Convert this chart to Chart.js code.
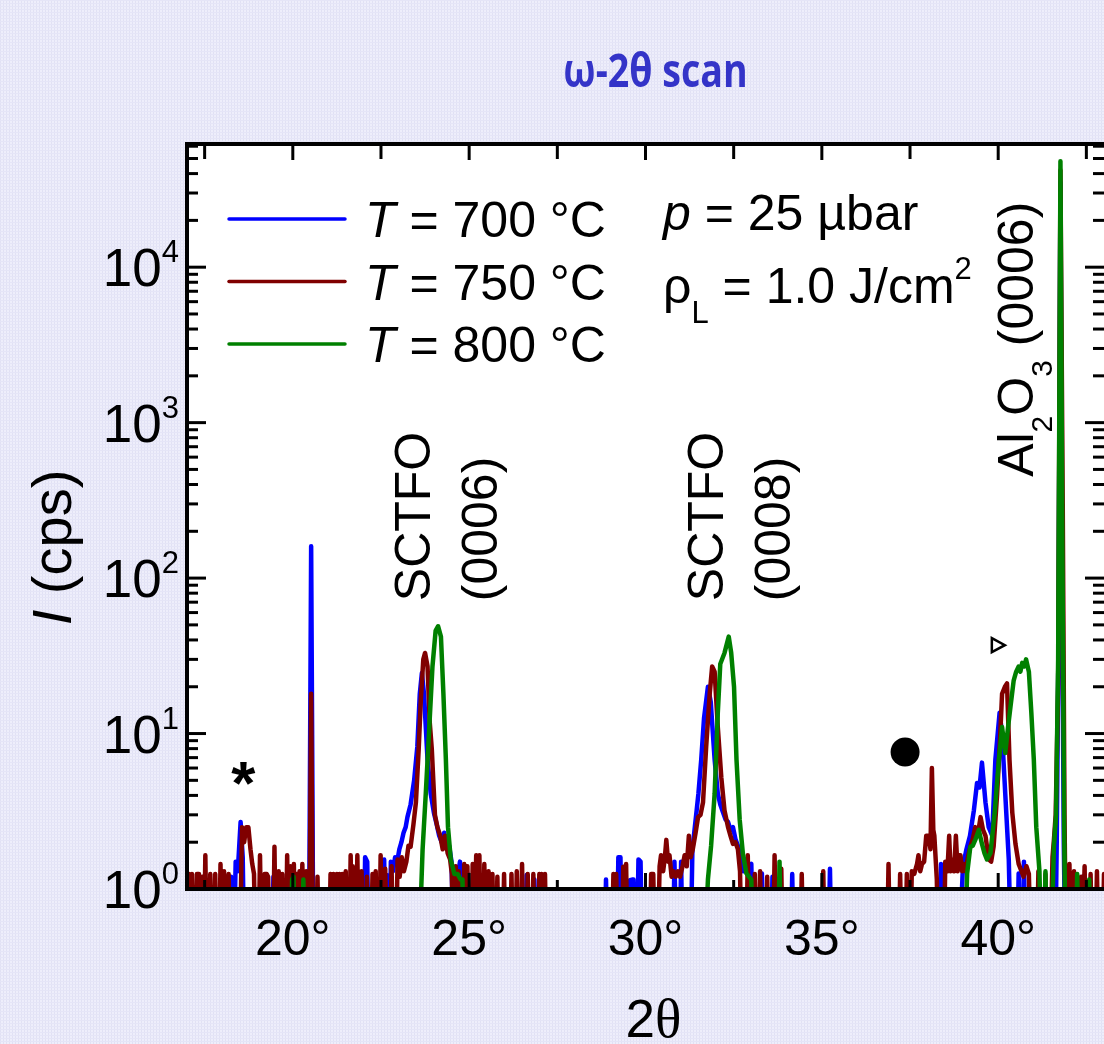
<!DOCTYPE html>
<html>
<head>
<meta charset="utf-8">
<title>ω-2θ scan</title>
<script src="https://cdn.jsdelivr.net/npm/chart.js@4/dist/chart.umd.min.js"></script>
<style>
  html, body { margin: 0; padding: 0; background: #ebebf9; }
  canvas { display: block; }
</style>
</head>
<body>
<canvas id="xrd" width="1104" height="1044"></canvas>
<script>
// ---------------- data: ω-2θ scans, intensity in counts per second ----------------
const scanTemps  = [700, 750, 800];                 // growth temperature, °C
const scanColors = ['#0000ff', '#800000', '#008000'];

// [2θ (deg), I (cps)] ; 0 cps = no counts (sits on the bottom of the log axis)
const scan700 = [
  [17.00,0],[17.36,0],[17.40,1.15],[17.44,0],
  [18.06,0],[18.10,1.15],[18.14,0],[18.21,0],[18.25,1.2],[18.29,0],
  [18.33,0],[18.38,1.5],[18.44,1.3],[18.52,2.7],[18.58,1.6],[18.62,0],
  [19.41,0],[19.45,1.2],[19.49,0],[19.51,0],[19.55,1.2],[19.59,0],
  [20.31,0],[20.35,1.2],[20.39,0],
  [20.46,0],[20.52,160],[20.58,0],
  [21.86,0],[21.90,1.2],[21.94,0],
  [22.01,0],[22.05,1.6],[22.11,1.5],[22.15,0],
  [22.55,0],[22.59,1.55],[22.63,0],[22.66,1.23],[22.70,0],
  [22.74,0],[22.78,1.5],[22.84,1.3],[22.90,1.6],[22.96,1.5],[23.02,1.8],[23.08,2.0],[23.14,2.3],
  [23.20,2.5],[23.25,2.9],[23.34,3.5],[23.44,5.0],[23.53,8.2],[23.60,18],[23.66,24.5],[23.72,18],
  [23.82,6.8],[23.91,4.1],[24.00,3.1],[24.08,2.6],[24.15,2.2],[24.22,2.0],[24.29,2.3],[24.36,1.9],
  [24.43,1.9],[24.50,1.5],[24.56,0],
  [24.58,0],[24.62,1.39],[24.70,1.3],[24.74,1.5],[24.78,0],
  [24.92,0],[24.96,1.25],[25.00,0],
  [26.59,0],[26.63,1.23],[26.67,0],
  [26.81,0],[26.85,1.15],[26.89,0],
  [28.84,0],[28.88,1.15],[28.92,0],
  [29.19,0],[29.23,1.6],[29.29,1.6],[29.33,0],
  [29.52,0],[29.56,1.14],[29.62,1.15],[29.66,1.15],[29.70,0],
  [29.76,0],[29.80,1.55],[29.86,1.5],[29.90,0],
  [30.78,0],[30.82,1.5],[30.88,0],
  [30.97,0],[31.01,1.5],[31.05,0],
  [31.28,0],[31.33,1.8],[31.39,2.4],[31.45,3.2],[31.50,4.1],[31.58,6.8],[31.66,12.6],[31.77,20],
  [31.85,16],[31.96,6.8],[32.05,4.1],[32.12,3.5],[32.20,3.1],[32.27,2.8],[32.34,2.7],[32.41,2.4],
  [32.48,2.5],[32.55,2.1],[32.62,1.9],[32.70,1.6],[32.78,1.3],[32.85,1.55],[32.92,1.3],[33.00,1.45],[33.05,0],
  [33.26,0],[33.30,1.26],[33.34,0],
  [33.56,0],[33.60,1.2],[33.64,0],
  [34.12,0],[34.16,1.25],[34.20,0],
  [35.19,0],[35.23,1.35],[35.27,0],
  [38.34,0],[38.38,1.45],[38.44,1.3],[38.48,0],
  [38.90,0],[39.00,1.4],[39.10,1.8],[39.20,2.2],[39.26,2.7],[39.31,3.2],[39.40,4.8],[39.47,4.5],
  [39.54,6.5],[39.64,3.6],[39.73,2.5],[39.83,2.2],[39.92,6.8],[40.04,13.6],[40.11,10],[40.20,4.1],
  [40.30,1.55],[40.36,0],
  [40.54,0],[40.58,1.26],[40.62,0],
  [40.69,0],[40.73,1.5],[40.77,0],
  [41.62,0],[41.66,2],[41.71,40],[41.765,35000],[41.81,100],[41.86,2],[41.90,0],
  [42.36,0],[42.40,1.2],[42.44,0],
  [43.00,0]
];

const scan750 = [
  [17.00,0],[17.02,0],[17.06,1.25],[17.10,0],[17.14,1.25],[17.18,0],
  [17.24,0],[17.28,1.25],[17.34,1.25],[17.38,0],[17.44,1.2],[17.48,0],
  [17.52,1.65],[17.56,0],
  [17.62,0],[17.66,1.25],[17.70,0],
  [17.76,0],[17.80,1.25],[17.84,0],
  [17.91,0],[17.95,1.45],[17.99,0],[18.05,1.3],[18.09,0],
  [18.14,0],[18.18,1.25],[18.22,0],
  [18.50,0],[18.56,2.5],[18.62,2.0],[18.68,2.5],[18.74,2.5],[18.80,1.8],[18.85,1.45],[18.90,1.25],[18.94,0],
  [19.03,0],[19.07,1.65],[19.11,0],
  [19.16,0],[19.20,1.25],[19.26,1.25],[19.30,1.2],[19.34,0],
  [19.44,0],[19.48,1.87],[19.52,0],
  [19.56,0],[19.60,1.3],[19.64,0],[19.70,1.25],[19.74,0],
  [19.80,0],[19.84,1.65],[19.88,0],[19.93,1.4],[19.97,0],
  [19.99,0],[20.03,1.45],[20.07,0],[20.10,1.25],[20.14,0],
  [20.15,0],[20.19,1.3],[20.23,0],[20.27,1.45],[20.31,0],[20.38,1.3],[20.42,0],
  [20.47,0],[20.52,18],[20.57,0],
  [20.66,0],[20.70,1.2],[20.74,0],
  [21.03,0],[21.07,1.25],[21.11,0],[21.15,1.25],[21.19,0],
  [21.21,0],[21.25,1.25],[21.29,0],[21.32,1.25],[21.36,0],
  [21.40,1.25],[21.44,0],
  [21.46,0],[21.50,1.3],[21.54,0],
  [21.60,0],[21.64,1.65],[21.68,0],[21.70,1.4],[21.74,0],
  [21.79,0],[21.83,1.65],[21.87,0],
  [21.91,0],[21.95,1.3],[21.99,0],
  [22.06,0],[22.10,1.2],[22.14,0],
  [22.22,0],[22.26,1.25],[22.30,0],
  [22.31,0],[22.35,1.3],[22.39,0],
  [22.45,0],[22.49,1.65],[22.53,0],
  [22.58,0],[22.62,1.35],[22.66,0],
  [22.76,0],[22.80,1.4],[22.84,0],
  [22.93,0],[22.97,1.55],[23.03,1.2],[23.09,1.6],[23.15,1.3],[23.22,1.5],[23.28,1.9],[23.34,1.87],
  [23.42,2.6],[23.49,3.6],[23.57,8],[23.63,16.5],[23.70,30],[23.75,33],[23.82,27],[23.88,12],
  [23.94,8],[24.03,3.0],[24.10,2.5],[24.18,2.2],[24.25,1.8],[24.32,2.2],[24.39,1.7],[24.46,1.55],
  [24.51,1.25],[24.55,0],
  [24.58,0],[24.62,1.4],[24.66,0],[24.70,1.3],[24.74,0],
  [24.82,0],[24.86,1.45],[24.90,0],[24.95,1.4],[24.99,0],
  [25.06,0],[25.10,1.45],[25.14,0],[25.20,1.65],[25.24,0],
  [25.25,0],[25.29,1.65],[25.33,0],
  [25.39,0],[25.43,1.45],[25.47,0],
  [25.51,0],[25.55,1.3],[25.59,0],
  [25.62,0],[25.66,1.25],[25.70,0],
  [25.76,0],[25.80,1.2],[25.84,0],
  [25.95,0],[25.99,1.25],[26.03,0],
  [26.16,0],[26.20,1.25],[26.24,0],
  [26.31,0],[26.35,1.3],[26.39,0],
  [26.46,0],[26.50,1.45],[26.54,0],
  [26.62,0],[26.66,1.25],[26.70,0],
  [26.78,0],[26.82,1.25],[26.86,0],
  [26.95,0],[26.99,1.25],[27.03,0],[27.05,1.25],[27.09,0],
  [27.11,0],[27.15,1.25],[27.19,0],
  [29.05,0],[29.09,1.25],[29.13,0],
  [29.17,1.25],[29.21,0],
  [29.33,0],[29.37,1.39],[29.41,0],
  [29.45,1.45],[29.49,0],
  [30.12,0],[30.16,1.25],[30.22,1.25],[30.26,0],
  [30.35,0],[30.40,1.4],[30.44,1.65],[30.50,1.3],[30.55,1.6],[30.59,2.07],[30.64,1.5],[30.68,1.65],
  [30.74,1.2],[30.80,1.3],[30.86,1.2],[30.92,1.3],[30.98,1.2],[31.05,1.4],[31.11,1.65],[31.17,1.4],
  [31.23,2.2],[31.28,1.6],[31.34,1.8],[31.42,2.3],[31.49,2.9],[31.56,3.0],[31.63,3.6],[31.72,8.2],
  [31.82,18],[31.89,27],[31.96,25],[32.05,11],[32.15,5.2],[32.24,3.2],[32.34,2.5],[32.41,2.2],
  [32.48,1.95],[32.55,2.0],[32.62,1.8],[32.68,1.3],[32.72,0],
  [32.86,0],[32.90,1.65],[32.94,0],
  [33.06,0],[33.10,1.25],[33.14,0],
  [33.21,0],[33.25,1.3],[33.29,0],
  [33.41,0],[33.45,1.2],[33.49,0],
  [33.62,0],[33.66,1.65],[33.70,0],
  [33.81,0],[33.85,1.35],[33.89,0],
  [34.39,0],[34.43,1.25],[34.47,0],
  [35.00,0],[35.04,1.3],[35.08,0],
  [36.85,0],[36.89,1.45],[36.93,0],
  [37.18,0],[37.22,1.25],[37.26,0],
  [37.37,0],[37.41,1.25],[37.45,0],
  [37.51,0],[37.55,1.3],[37.62,1.25],[37.70,1.45],[37.74,1.65],[37.79,1.3],[37.84,1.45],[37.90,1.5],
  [37.96,2.2],[38.03,2.2],[38.08,1.8],[38.12,6.0],[38.16,2.4],[38.19,2.2],[38.26,1.15],[38.30,0],
  [38.46,0],[38.50,1.5],[38.56,1.3],[38.61,2.2],[38.65,1.3],[38.69,1.55],[38.75,1.3],[38.80,2.2],
  [38.85,1.3],[38.88,1.65],[38.93,1.65],[38.98,1.3],[39.02,1.45],[39.08,1.3],[39.14,1.6],[39.21,1.87],
  [39.28,2.1],[39.35,2.5],[39.43,2.3],[39.50,2.9],[39.57,2.4],[39.64,2.2],[39.73,1.55],[39.80,1.5],
  [39.87,1.87],[39.97,4.1],[40.05,9],[40.11,18],[40.19,20],[40.25,21],[40.32,6.8],[40.40,3.1],
  [40.49,1.95],[40.58,1.45],[40.66,1.3],[40.72,1.2],[40.80,1.4],[40.87,1.25],[40.92,0],
  [41.10,0],[41.14,1.3],[41.18,0],
  [41.30,0],[41.34,1.25],[41.38,0],
  [41.48,0],[41.54,1.6],[41.58,2.07],[41.63,3],[41.70,20],[41.765,42000],[41.83,300],[41.88,3],[41.92,0],
  [41.98,0],[42.02,1.45],[42.06,0],
  [42.11,0],[42.15,1.3],[42.19,0],
  [42.31,0],[42.35,1.2],[42.39,0],[42.45,1.4],[42.49,0],
  [42.58,0],[42.62,1.25],[42.66,0],
  [42.76,0],[42.80,1.3],[42.84,0],
  [42.96,0],[43.00,1.25]
];

const scan800 = [
  [17.00,0],[19.94,0],[19.98,1.15],[20.02,1.2],[20.06,0],
  [20.26,0],[20.30,1.15],[20.34,0],
  [23.58,0],[23.68,1.8],[23.77,4.1],[23.87,11],[23.96,27],[24.05,46],[24.12,49],[24.20,42],
  [24.27,18],[24.34,6.8],[24.40,2.5],[24.48,1.55],[24.58,1.25],[24.67,1.25],[24.76,1.15],[24.81,1.15],[24.85,0],
  [31.68,0],[31.77,1.15],[31.86,1.9],[31.96,4.1],[32.05,13.6],[32.12,28],[32.24,33],[32.36,42],
  [32.43,33],[32.51,20],[32.58,6.8],[32.67,2.8],[32.76,1.7],[32.86,1.26],[33.00,1.15],[33.04,0],
  [33.76,0],[33.80,1.5],[33.84,0],
  [39.05,0],[39.12,1.26],[39.21,1.87],[39.28,1.9],[39.35,2.07],[39.45,2.4],[39.54,1.95],[39.61,1.7],
  [39.68,1.55],[39.78,1.7],[39.90,3.1],[40.02,6.8],[40.11,11],[40.20,7.5],[40.28,11],[40.35,15],
  [40.44,22],[40.51,25],[40.58,27],[40.63,25],[40.68,28.5],[40.74,27],[40.79,30],[40.87,25],
  [40.94,13.6],[41.01,6.8],[41.08,2.5],[41.17,1.3],[41.22,0],
  [41.30,0],[41.34,1.3],[41.38,0],
  [41.50,0],[41.58,1.87],[41.64,3],[41.70,30],[41.765,48000],[41.82,150],[41.87,2.5],[41.91,0],
  [42.20,0],[42.24,1.25],[42.28,0],
  [42.54,0],[42.58,1.15],[42.62,0],
  [43.00,0]
];

// ---------------- axes ----------------
const xRange = [17, 43];
const yRange = [1, 62000];
const xMajorTicks = [20, 25, 30, 35, 40];
const xTickLabels = ['20°', '25°', '30°', '35°', '40°'];
const xMinorTicks = [17.5, 22.5, 27.5, 32.5, 37.5, 42.5];
const yDecades = [1, 10, 100, 1000, 10000];
const yDecadeExponents = ['0', '1', '2', '3', '4'];
const yMinorMantissas = [2, 3, 4, 5, 6, 7, 8, 9];

// counts of zero cannot sit on a log axis: push them just below its lower edge
const BELOW_AXIS = 0.4;
const toPoints = scan => scan.map(([x, y]) => ({ x, y: y > 0 ? y : BELOW_AXIS }));

const SANS = '"Liberation Sans", Arial, Helvetica, sans-serif';
const SERIF = '"Liberation Serif", "Times New Roman", serif';
const font = (size, style = '', fam = SANS) => `${style} ${size}px ${fam}`.trim();

// draws a run of differently styled text pieces along one baseline
function drawRich(ctx, segs, x, y, align = 'left', angle = 0, color = '#000', scaleX = 1) {
  ctx.save();
  ctx.translate(x, y);
  ctx.rotate(angle);
  ctx.scale(scaleX, 1);
  ctx.fillStyle = color;
  ctx.textAlign = 'left';
  ctx.textBaseline = 'alphabetic';
  let total = 0;
  for (const s of segs) { ctx.font = s.f; s.w = ctx.measureText(s.t).width; total += s.w; }
  let cx = align === 'center' ? -total / 2 : align === 'right' ? -total : 0;
  for (const s of segs) { ctx.font = s.f; ctx.fillText(s.t, cx, s.dy || 0); cx += s.w; }
  ctx.restore();
}

function makeBackdrop(ctx) {
  const p = document.createElement('canvas');
  p.width = 3; p.height = 3;
  const g = p.getContext('2d');
  g.fillStyle = '#eeeefb'; g.fillRect(0, 0, 3, 3);
  g.fillStyle = '#e1e1f4'; g.fillRect(0, 0, 1, 3);
  g.fillStyle = '#e5e5f7'; g.fillRect(0, 0, 3, 1);
  return ctx.createPattern(p, 'repeat');
}

const framePlugin = {
  id: 'xrdFrame',
  beforeDraw(chart) {
    const { ctx, chartArea: a, width, height } = chart;
    ctx.save();
    ctx.fillStyle = makeBackdrop(ctx);
    ctx.fillRect(0, 0, width, height);
    ctx.fillStyle = '#ffffff';
    ctx.fillRect(a.left, a.top, a.right - a.left, a.bottom - a.top);
    ctx.restore();
  },
  afterDatasetsDraw(chart) {
    const { ctx, chartArea: a } = chart;
    const xs = chart.scales.x, ys = chart.scales.y;
    ctx.save();
    ctx.strokeStyle = '#000';
    ctx.lineCap = 'butt';

    // axis frame (left, top, bottom)
    ctx.lineWidth = 4;
    ctx.beginPath();
    ctx.moveTo(a.right + 2, a.top); ctx.lineTo(a.left, a.top);
    ctx.lineTo(a.left, a.bottom); ctx.lineTo(a.right + 2, a.bottom);
    ctx.stroke();

    // inward ticks
    ctx.lineWidth = 3;
    const tick = (x1, y1, x2, y2) => { ctx.beginPath(); ctx.moveTo(x1, y1); ctx.lineTo(x2, y2); ctx.stroke(); };
    for (const v of xMajorTicks) {
      const px = xs.getPixelForValue(v);
      tick(px, a.bottom, px, a.bottom - 16);
      tick(px, a.top, px, a.top + 16);
    }
    for (const v of xMinorTicks) {
      const px = xs.getPixelForValue(v);
      tick(px, a.bottom, px, a.bottom - 9);
      tick(px, a.top, px, a.top + 15);
    }
    for (const d of yDecades) {
      const py = ys.getPixelForValue(d);
      if (d > yRange[0]) { tick(a.left, py, a.left + 19, py); tick(a.right, py, a.right - 19, py); }
      for (const m of yMinorMantissas) {
        const v = m * d;
        if (v >= yRange[1]) continue;
        const q = ys.getPixelForValue(v);
        tick(a.left, q, a.left + 11, q);
        tick(a.right, q, a.right - 11, q);
      }
    }

    // tick labels
    ctx.fillStyle = '#000';
    xMajorTicks.forEach((v, i) => {
      drawRich(ctx, [{ t: xTickLabels[i], f: font(50) }], xs.getPixelForValue(v), a.bottom + 66, 'center');
    });
    yDecades.forEach((d, i) => {
      const py = ys.getPixelForValue(d);
      ctx.font = font(31);
      const wSup = ctx.measureText(yDecadeExponents[i]).width;
      const end = a.left - 8;
      drawRich(ctx, [{ t: '10', f: font(53) }], end - wSup, py + 19, 'right');
      drawRich(ctx, [{ t: yDecadeExponents[i], f: font(31) }], end - wSup, py - 5, 'left');
    });

    // axis titles
    drawRich(ctx, [{ t: '2', f: font(53) }, { t: 'θ', f: font(55, '', SERIF) }],
      (a.left + a.right) / 2 + 8, 1037, 'center');
    drawRich(ctx, [{ t: 'I', f: font(56, 'italic') }, { t: ' (cps)', f: font(56) }],
      71, (a.top + a.bottom) / 2 + 31, 'center', -Math.PI / 2);

    // heading
    drawRich(ctx, [{ t: 'ω-2θ scan', f: font(47, 'bold', '"Open Sans", "Noto Sans", sans-serif') }],
      (a.left + a.right) / 2 + 10, 87, 'center', 0, '#3434c8', 0.8);

    // legend
    scanTemps.forEach((t, i) => {
      const base = a.top + 93 + i * 62.5;
      ctx.strokeStyle = scanColors[i];
      ctx.lineWidth = 3.5;
      ctx.lineCap = 'round';
      tick(a.left + 42, base - 18, a.left + 158, base - 18);
      drawRich(ctx, [{ t: 'T', f: font(50, 'italic') }, { t: ` = ${t} °C`, f: font(50) }],
        a.left + 178, base, 'left');
    });

    // growth conditions
    drawRich(ctx, [{ t: 'p', f: font(50, 'italic') }, { t: ' = 25 µbar', f: font(50) }],
      a.left + 476, a.top + 86, 'left');
    drawRich(ctx, [
      { t: 'ρ', f: font(50) }, { t: 'L', f: font(31), dy: 20 },
      { t: ' = 1.0 J/cm', f: font(50) }, { t: '2', f: font(31), dy: -24 }
    ], a.left + 476, a.top + 159, 'left');

    // reflection labels, anchored in data coordinates
    const X = v => xs.getPixelForValue(v), Y = v => ys.getPixelForValue(v);
    const up = -Math.PI / 2;
    drawRich(ctx, [{ t: 'SCTFO', f: font(50) }], X(23.89), Y(71), 'left', up);
    drawRich(ctx, [{ t: '(0006)', f: font(50) }], X(25.79), Y(71), 'left', up);
    drawRich(ctx, [{ t: 'SCTFO', f: font(50) }], X(32.20), Y(71), 'left', up);
    drawRich(ctx, [{ t: '(0008)', f: font(50) }], X(34.10), Y(71), 'left', up);
    drawRich(ctx, [
      { t: 'Al', f: font(50) }, { t: '2', f: font(30), dy: 19 },
      { t: 'O', f: font(50) }, { t: '3', f: font(30), dy: 19 },
      { t: ' (0006)', f: font(50) }
    ], X(40.99), Y(448), 'left', up);

    // impurity / substrate markers
    ctx.font = font(62, 'bold');
    const mk = ctx.measureText('*');
    const ax = X(18.6), ay = Y(5.57);
    ctx.textAlign = 'center';
    ctx.textBaseline = 'alphabetic';
    ctx.fillStyle = '#000';
    ctx.fillText('*', ax, ay + (mk.actualBoundingBoxAscent - mk.actualBoundingBoxDescent) / 2);

    ctx.beginPath();
    ctx.arc(X(37.36), Y(7.6), 14.5, 0, Math.PI * 2);
    ctx.fill();

    const tx = X(39.99), ty = Y(37);
    ctx.lineWidth = 2.5;
    ctx.lineJoin = 'miter';
    ctx.strokeStyle = '#000';
    ctx.beginPath();
    ctx.moveTo(tx - 6, ty - 7); ctx.lineTo(tx + 7, ty); ctx.lineTo(tx - 6, ty + 7); ctx.closePath();
    ctx.stroke();

    ctx.restore();
  }
};

const scans = [scan700, scan750, scan800];
new Chart(document.getElementById('xrd'), {
  type: 'line',
  data: {
    datasets: scans.map((s, i) => ({
      label: `T = ${scanTemps[i]} °C`,
      data: toPoints(s),
      borderColor: scanColors[i],
      borderWidth: 4.5,
      borderJoinStyle: 'round',
      borderCapStyle: 'round',
      pointRadius: 0,
      tension: 0,
      fill: false,
      order: 3 - i          // 800 °C on top, 700 °C at the back
    }))
  },
  options: {
    responsive: false,
    animation: false,
    devicePixelRatio: 1,
    layout: { padding: { left: 187, right: 0, top: 144, bottom: 155 } },
    scales: {
      x: { type: 'linear', min: xRange[0], max: xRange[1], display: false },
      y: { type: 'logarithmic', min: yRange[0], max: yRange[1], display: false }
    },
    plugins: { legend: { display: false }, tooltip: { enabled: false }, title: { display: false } },
    events: []
  },
  plugins: [framePlugin]
});
</script>
</body>
</html>
